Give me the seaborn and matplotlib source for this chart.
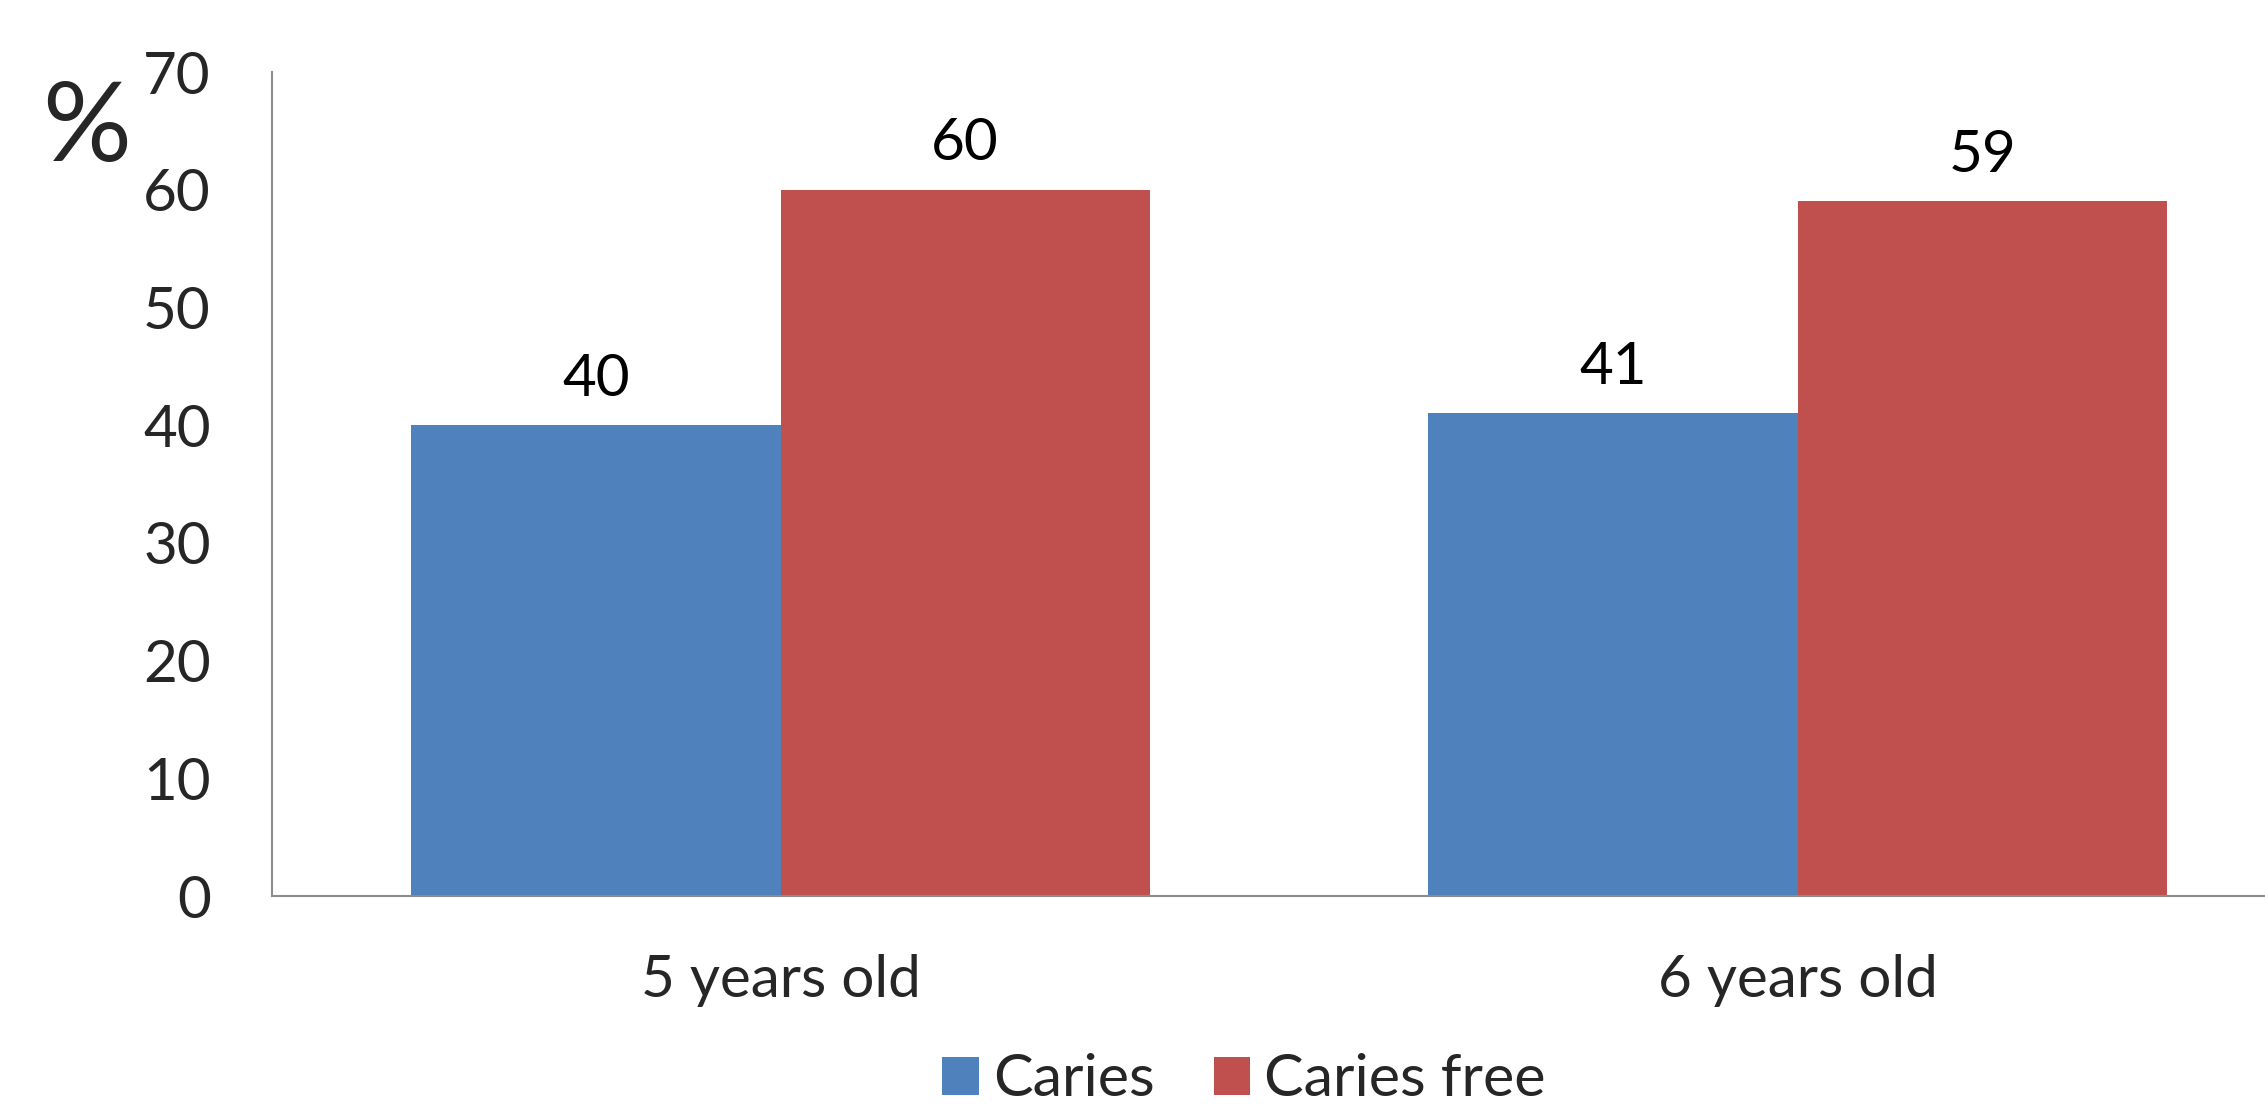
import matplotlib
matplotlib.use("Agg")
import matplotlib.pyplot as plt
import seaborn as sns
import pandas as pd

# Data
age_groups = ["5 years old", "6 years old"]
status = ["Caries", "Caries free"]
caries = [40, 41]
caries_free = [60, 59]
y_ticks = [0, 10, 20, 30, 40, 50, 60, 70]

colors = ["#4F81BD", "#C0504D"]

df = pd.DataFrame({
    "age": age_groups * 2,
    "status": [status[0]] * 2 + [status[1]] * 2,
    "percent": caries + caries_free,
})

sns.set_theme(style="white")
plt.rcParams["font.family"] = ["Lato", "DejaVu Sans"]

W, H = 2265, 1106
fig = plt.figure(figsize=(W / 100, H / 100), dpi=100)
ax = fig.add_axes([272 / W, (H - 896) / H, (2306 - 272) / W, (896 - 72) / H])

sns.barplot(data=df, x="age", y="percent", hue="status", order=age_groups,
            hue_order=status, palette=colors, width=0.726, saturation=1,
            edgecolor="none", linewidth=0, ax=ax, legend=False)

for cont in ax.containers:
    ax.bar_label(cont, labels=[f"{v:g}" for v in cont.datavalues],
                 padding=14, fontsize=42, color="black")

ax.set_ylim(0, 70)
ax.set_xlim(-0.5, 1.5)
ax.set_yticks(y_ticks)
ax.set_yticklabels([str(t) for t in y_ticks], fontsize=42)
ax.tick_params(axis="y", length=0, pad=44)
ax.tick_params(axis="x", length=0, pad=42, labelsize=42)
ax.set_xlabel("")
ax.set_ylabel("")

for side in ["top", "right"]:
    ax.spines[side].set_visible(False)
for side in ["left", "bottom"]:
    ax.spines[side].set_color("#8C8C8C")
    ax.spines[side].set_linewidth(1.5)

fig.text(42 / W, 1 - 130 / H, "%", fontsize=80, ha="left", va="center")

handles = [plt.Rectangle((0, 0), 1, 1, facecolor=c, edgecolor="none") for c in colors]
fig.legend(handles, status, loc="center", bbox_to_anchor=(1244 / W, 1 - 1080 / H),
           ncol=2, frameon=False, fontsize=42.7, handlelength=0.61, handleheight=0.61,
           handletextpad=0.24, columnspacing=1.0)

fig.savefig("out.png", dpi=100)
